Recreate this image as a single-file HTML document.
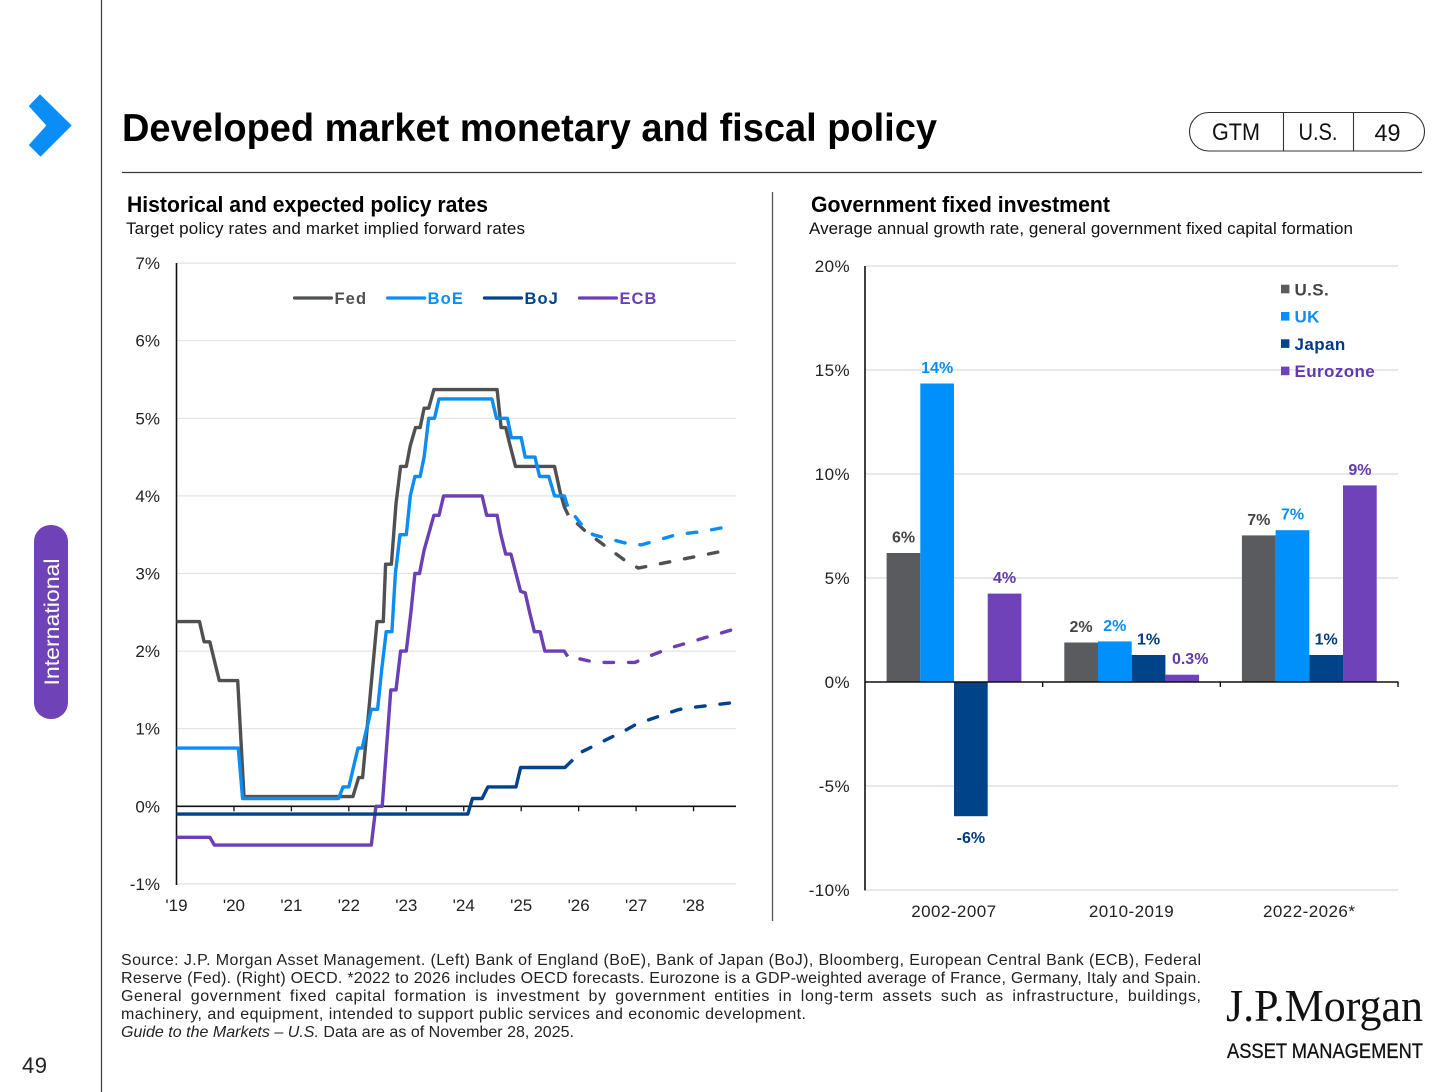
<!DOCTYPE html>
<html lang="en">
<head>
<meta charset="utf-8">
<title>Developed market monetary and fiscal policy</title>
<style>
html,body{margin:0;padding:0;background:#fff;}
svg{display:block;font-family:"Liberation Sans",Arial,sans-serif;}
</style>
</head>
<body>
<svg id="page" xmlns="http://www.w3.org/2000/svg" width="1456" height="1092" viewBox="0 0 1456 1092">
  <rect x="0" y="0" width="1456" height="1092" fill="#ffffff"/>
  <line x1="101.5" y1="0" x2="101.5" y2="1092" stroke="#3a3a3a" stroke-width="1.2"/>
  <polygon points="40,95 71,125.5 40.5,156 29.5,145 47,125.5 29.5,106" fill="#0a8df5" stroke="#0a8df5" stroke-width="1" stroke-linejoin="round"/>
  <rect x="34" y="525" width="34" height="194" rx="16.5" fill="#6f42b8"/>
  <text transform="translate(59,622) rotate(-90)" text-anchor="middle" font-size="21" fill="#ffffff" textLength="127" lengthAdjust="spacingAndGlyphs">International</text>
  <text x="22" y="1073" font-size="22" fill="#222222" textLength="25">49</text>

  <text x="122" y="141" font-size="39" font-weight="bold" fill="#000000" textLength="815" lengthAdjust="spacingAndGlyphs">Developed market monetary and fiscal policy</text>
  <line x1="122" y1="172.5" x2="1422" y2="172.5" stroke="#3a3a3a" stroke-width="1.2"/>

  <g>
    <rect x="1189.5" y="112.5" width="235" height="38.5" rx="19.2" fill="#ffffff" stroke="#333333" stroke-width="1.1"/>
    <line x1="1283.5" y1="112.5" x2="1283.5" y2="151" stroke="#333333" stroke-width="1.1"/>
    <line x1="1353.5" y1="112.5" x2="1353.5" y2="151" stroke="#333333" stroke-width="1.1"/>
    <text x="1236" y="140" font-size="24" text-anchor="middle" fill="#111111" textLength="48" lengthAdjust="spacingAndGlyphs">GTM</text>
    <text x="1318" y="140" font-size="24" text-anchor="middle" fill="#111111" textLength="39" lengthAdjust="spacingAndGlyphs">U.S.</text>
    <text x="1387.5" y="141" font-size="24" text-anchor="middle" fill="#111111" textLength="26" lengthAdjust="spacingAndGlyphs">49</text>
  </g>

  <text x="127" y="212" font-size="22" font-weight="bold" fill="#000000" textLength="361" lengthAdjust="spacingAndGlyphs">Historical and expected policy rates</text>
  <text x="126" y="234" font-size="17" fill="#111111" textLength="399" lengthAdjust="spacing">Target policy rates and market implied forward rates</text>
  <text x="811" y="212" font-size="22" font-weight="bold" fill="#000000" textLength="299" lengthAdjust="spacingAndGlyphs">Government fixed investment</text>
  <text x="809" y="234" font-size="17" fill="#111111" textLength="544" lengthAdjust="spacing">Average annual growth rate, general government fixed capital formation</text>
  <line x1="772.5" y1="192" x2="772.5" y2="921" stroke="#555555" stroke-width="1.3"/>

  <g id="rates-chart"></g>
  <g id="invest-chart"></g>

  <g font-size="16" fill="#222222">
    <text x="121" y="965" textLength="1080" lengthAdjust="spacing">Source: J.P. Morgan Asset Management. (Left) Bank of England (BoE), Bank of Japan (BoJ), Bloomberg, European Central Bank (ECB), Federal</text>
    <text x="121" y="983" textLength="1080" lengthAdjust="spacing">Reserve (Fed). (Right) OECD. *2022 to 2026 includes OECD forecasts. Eurozone is a GDP-weighted average of France, Germany, Italy and Spain.</text>
    <text x="121" y="1001" word-spacing="3.5" textLength="1080" lengthAdjust="spacing">General government fixed capital formation is investment by government entities in long-term assets such as infrastructure, buildings,</text>
    <text x="121" y="1019" textLength="685" lengthAdjust="spacing">machinery, and equipment, intended to support public services and economic development.</text>
    <text x="121" y="1037" textLength="453" lengthAdjust="spacing"><tspan font-style="italic">Guide to the Markets – U.S.</tspan> Data are as of November 28, 2025.</text>
  </g>

  <g>
    <text x="1226" y="1021" font-family="'Liberation Serif',serif" font-size="46" fill="#111111" textLength="197" lengthAdjust="spacingAndGlyphs">J.P.Morgan</text>
    <text x="1227" y="1058" font-size="21" fill="#111111" stroke="#111111" stroke-width="0.3" textLength="196" lengthAdjust="spacingAndGlyphs">ASSET MANAGEMENT</text>
  </g>
</svg>

<script>
// ---------- Left chart data: policy rates (decimal year, percent) ----------
const rateTickLabels = ["-1%","0%","1%","2%","3%","4%","5%","6%","7%"];
const rateTickValues = [-1,0,1,2,3,4,5,6,7];
const yearTickLabels = ["'19","'20","'21","'22","'23","'24","'25","'26","'27","'28"];
const yearTickValues = [2019,2020,2021,2022,2023,2024,2025,2026,2027,2028];

const fedYears = [2019,2019.40,2019.48,2019.58,2019.745,2020.065,2020.175,2022.07,2022.17,2022.24,2022.49,2022.60,2022.64,2022.74,2022.82,2022.90,2023.0,2023.07,2023.16,2023.24,2023.31,2023.39,2023.48,2024.58,2024.65,2024.73,2024.79,2024.90,2025.58,2025.68,2025.75,2025.82];
const fedValues = [2.38,2.38,2.12,2.12,1.62,1.62,0.125,0.125,0.37,0.37,2.38,2.38,3.12,3.12,3.9,4.38,4.38,4.65,4.88,4.88,5.13,5.13,5.37,5.37,4.88,4.88,4.7,4.38,4.38,4.04,3.86,3.75];
const fedForwardYears = [2025.82,2026.14,2026.84,2027.04,2028.52];
const fedForwardValues = [3.75,3.53,3.15,3.07,3.29];

const boeYears = [2019,2020.076,2020.15,2021.82,2021.90,2022.0,2022.08,2022.16,2022.23,2022.31,2022.39,2022.50,2022.57,2022.65,2022.75,2022.81,2022.89,2023.0,2023.07,2023.15,2023.24,2023.31,2023.39,2023.49,2023.57,2024.49,2024.57,2024.76,2024.83,2025.0,2025.07,2025.24,2025.32,2025.48,2025.58,2025.75,2025.81];
const boeValues = [0.75,0.75,0.1,0.1,0.25,0.25,0.5,0.75,0.75,1.0,1.25,1.25,1.75,2.25,2.25,3.0,3.5,3.5,4.0,4.25,4.25,4.5,5.0,5.0,5.25,5.25,5.0,5.0,4.75,4.75,4.5,4.5,4.25,4.25,4.0,4.0,3.86];
const boeForwardYears = [2025.81,2026.08,2026.25,2026.88,2027.10,2027.70,2028.14,2028.58];
const boeForwardValues = [3.86,3.6,3.5,3.38,3.37,3.5,3.54,3.6];

const ecbYears = [2019,2019.58,2019.66,2022.39,2022.47,2022.58,2022.73,2022.82,2022.90,2023.0,2023.08,2023.15,2023.23,2023.31,2023.48,2023.57,2023.65,2024.32,2024.40,2024.58,2024.64,2024.73,2024.82,2024.99,2025.07,2025.15,2025.23,2025.33,2025.41,2025.75,2025.81];
const ecbValues = [-0.4,-0.4,-0.5,-0.5,0,0,1.5,1.5,2.0,2.0,2.5,3.0,3.0,3.3,3.75,3.75,4.0,4.0,3.75,3.75,3.52,3.25,3.25,2.77,2.75,2.49,2.25,2.25,2.0,2.0,1.93];
const ecbForwardYears = [2025.81,2025.90,2026.29,2026.98,2027.18,2027.59,2028.0,2028.74];
const ecbForwardValues = [1.93,1.92,1.855,1.855,1.92,2.04,2.13,2.29];

const bojYears = [2019,2024.07,2024.15,2024.32,2024.42,2024.91,2024.99,2025.76,2025.90];
const bojValues = [-0.1,-0.1,0.1,0.1,0.25,0.25,0.5,0.5,0.6];
const bojForwardYears = [2025.90,2026.05,2026.84,2027.01,2027.71,2027.83,2028.73];
const bojForwardValues = [0.6,0.7,0.99,1.06,1.24,1.26,1.34];

const rateLegendLabels = ["Fed","BoE","BoJ","ECB"];

// ---------- Right chart data: government fixed investment ----------
const investTickValues = [-10,-5,0,5,10,15,20];
const investTickLabels = ["-10%","-5%","0%","5%","10%","15%","20%"];
const periodLabels = ["2002-2007","2010-2019","2022-2026*"];
const usGrowth = [6.2,1.9,7.05];
const ukGrowth = [14.35,1.95,7.3];
const japanGrowth = [-6.45,1.3,1.3];
const eurozoneGrowth = [4.25,0.35,9.45];
const usPrinted = ["6%","2%","7%"];
const ukPrinted = ["14%","2%","7%"];
const japanPrinted = ["-6%","1%","1%"];
const eurozonePrinted = ["4%","0.3%","9%"];
const investLegendLabels = ["U.S.","UK","Japan","Eurozone"];

// ---------- Drawing ----------
const NS = "http://www.w3.org/2000/svg";
function make(parent, tag, attrs, txt) {
  const el = document.createElementNS(NS, tag);
  for (const k in attrs) el.setAttribute(k, attrs[k]);
  if (txt !== undefined) el.textContent = txt;
  parent.appendChild(el);
  return el;
}
const GRAY = "#4f5052", BAR_GRAY = "#595b5e", BLUE = "#0a8df5", NAVY = "#00438a", PURPLE = "#6b3fb5";
const LINE_W = 3.4;

// Left chart scales
const ratesRoot = document.getElementById("rates-chart");
const rx = t => 176.5 + (t - 2019) * 57.45;
const ry = v => 806.3 - v * 77.6;

rateTickValues.forEach((v, i) => {
  if (v !== 0) {
    const g = make(ratesRoot, "line", {x1: 177, x2: 736, y1: ry(v), y2: ry(v), stroke: "#e3e3e3", "stroke-width": 1.2});
    
    
  }
  const t = make(ratesRoot, "text", {x: 160, y: ry(v) + 6, "text-anchor": "end", "font-size": 17, fill: "#222222"}, rateTickLabels[i]);
  
  
});
yearTickValues.forEach((y, i) => {
  if (i > 0) {
    const tick = make(ratesRoot, "line", {x1: rx(y), x2: rx(y), y1: ry(0), y2: ry(0) + 5, stroke: "#111111", "stroke-width": 1.3});
    
    
  }
  const t = make(ratesRoot, "text", {x: rx(y), y: 911, "text-anchor": "middle", "font-size": 17, fill: "#222222"}, yearTickLabels[i]);
  
  
});
const rateAxisY = make(ratesRoot, "line", {x1: 176.5, x2: 176.5, y1: 263, y2: 885, stroke: "#111111", "stroke-width": 1.6});


const rateAxisX = make(ratesRoot, "line", {x1: 176.5, x2: 736, y1: ry(0), y2: ry(0), stroke: "#111111", "stroke-width": 1.6});



function pts(xs, ys) { return xs.map((t, i) => rx(t).toFixed(1) + "," + ry(ys[i]).toFixed(1)).join(" "); }
function drawSolid(xs, ys, color) {
  return make(ratesRoot, "polyline", {points: pts(xs, ys), fill: "none", stroke: color, "stroke-width": LINE_W, "stroke-linejoin": "round"});
}
function drawForward(xs, ys, color) {
  return make(ratesRoot, "polyline", {points: pts(xs, ys), fill: "none", stroke: color, "stroke-width": LINE_W, "stroke-linecap": "round", "stroke-dasharray": "9.5 15", "stroke-dashoffset": "-12.5"});
}
const fedLine = drawSolid(fedYears, fedValues, GRAY);


const fedFwd = drawForward(fedForwardYears, fedForwardValues, GRAY);


const boeLine = drawSolid(boeYears, boeValues, BLUE);


const boeFwd = drawForward(boeForwardYears, boeForwardValues, BLUE);


const ecbLine = drawSolid(ecbYears, ecbValues, PURPLE);


const ecbFwd = drawForward(ecbForwardYears, ecbForwardValues, PURPLE);


const bojLine = drawSolid(bojYears, bojValues, NAVY);


const bojFwd = drawForward(bojForwardYears, bojForwardValues, NAVY);



// Left legend
const rateLegendColors = [GRAY, BLUE, NAVY, PURPLE];
let legendCursor = 294.5;
rateLegendLabels.forEach((label, i) => {
  const sw = make(ratesRoot, "line", {x1: legendCursor, x2: legendCursor + 37, y1: 298, y2: 298, stroke: rateLegendColors[i], "stroke-width": 3.2, "stroke-linecap": "round"});
  
  
  const t = make(ratesRoot, "text", {x: legendCursor + 40, y: 304, "font-size": 16.5, "font-weight": "bold", fill: rateLegendColors[i], "letter-spacing": 1.1}, label);
  
  
  legendCursor += 40 + t.getComputedTextLength() + 20.5;
});

// Right chart scales
const investRoot = document.getElementById("invest-chart");
const iy = v => 682 - v * 20.8;
const groupLeft = i => 865 + i * 177.67 + 21.6;
const BAR_W = 33.7;

investTickValues.forEach((v, i) => {
  if (v !== 0) {
    const g = make(investRoot, "line", {x1: 866, x2: 1398, y1: iy(v), y2: iy(v), stroke: "#d9d9d9", "stroke-width": 1.2});
    
    
  }
  const t = make(investRoot, "text", {x: 850, y: iy(v) + 6, "text-anchor": "end", "font-size": 17, fill: "#222222", "letter-spacing": 0.4}, investTickLabels[i]);
  
  
});

const seriesValues = [usGrowth, ukGrowth, japanGrowth, eurozoneGrowth];
const seriesPrinted = [usPrinted, ukPrinted, japanPrinted, eurozonePrinted];
const barColors = [BAR_GRAY, "#0090fb", "#004389", "#7042b9"];
const labelColors = ["#444547", BLUE, "#003a80", "#6139ad"];
seriesValues.forEach((vals, s) => {
  vals.forEach((v, g) => {
    const x = groupLeft(g) + s * BAR_W;
    const bar = make(investRoot, "rect", {x: x.toFixed(1), y: Math.min(iy(v), iy(0)).toFixed(1), width: BAR_W, height: Math.abs(iy(v) - iy(0)).toFixed(1), fill: barColors[s]});
    
    
    const cx = x + BAR_W / 2 + (Math.abs(v) < 1 ? 8 : 0);
    const by = v >= 0 ? iy(v) - 10.5 : iy(v) + 27;
    const lab = make(investRoot, "text", {x: cx.toFixed(1), y: by.toFixed(1), "text-anchor": "middle", "font-size": 16, "font-weight": "bold", fill: labelColors[s]}, seriesPrinted[s][g]);
    
    
  });
});

const investAxisY = make(investRoot, "line", {x1: 865, x2: 865, y1: 266, y2: 890.5, stroke: "#111111", "stroke-width": 1.6});


const investAxisX = make(investRoot, "line", {x1: 865, x2: 1398.5, y1: iy(0), y2: iy(0), stroke: "#111111", "stroke-width": 1.6});


periodLabels.forEach((label, i) => {
  const right = 865 + (i + 1) * 177.67;
  const tick = make(investRoot, "line", {x1: right, x2: right, y1: iy(0), y2: iy(0) + 5, stroke: "#111111", "stroke-width": 1.4});
  
  
  const t = make(investRoot, "text", {x: right - 88.8, y: 917, "text-anchor": "middle", "font-size": 17, fill: "#222222", "letter-spacing": 0.45}, label);
  
  
});

// Right legend
investLegendLabels.forEach((label, i) => {
  const cy = 289 + i * 27.3;
  const sq = make(investRoot, "rect", {x: 1281, y: cy - 4.3, width: 8.4, height: 8.6, fill: barColors[i]});
  
  
  const t = make(investRoot, "text", {x: 1294.5, y: cy + 6.3, "font-size": 17, "font-weight": "bold", fill: labelColors[i], "letter-spacing": 0.4}, label);
  
  
});
</script>
</body>
</html>
